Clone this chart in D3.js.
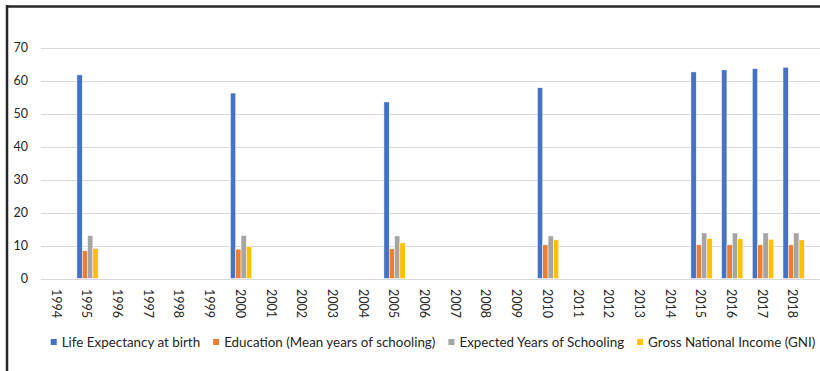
<!DOCTYPE html>
<html>
<head>
<meta charset="utf-8">
<script src="https://cdn.jsdelivr.net/npm/d3@7"></script>
<style>
  html, body { margin: 0; padding: 0; background: #fff; }
  svg { display: block; }
  text { font-family: Lato, "Open Sans", sans-serif; fill: #262626; }
</style>
</head>
<body>
<svg id="chart" width="820" height="371"></svg>
<script>
// Category axis: every year shown, only some have observations
const years = ["1994","1995","1996","1997","1998","1999","2000","2001","2002","2003",
  "2004","2005","2006","2007","2008","2009","2010","2011","2012","2013","2014",
  "2015","2016","2017","2018"];

// Years that carry data
const dataYears = ["1995","2000","2005","2010","2015","2016","2017","2018"];

// Series values, aligned with dataYears
const lifeExpectancy    = [61.7, 56.2, 53.5, 57.8, 62.6, 63.2, 63.6, 64.0];
const meanSchooling     = [8.4, 8.9, 9.0, 10.2, 10.2, 10.2, 10.2, 10.2];
const expectedSchooling = [13.0, 13.0, 12.9, 12.9, 13.8, 13.8, 13.8, 13.8];
const grossIncome       = [9.1, 9.6, 10.8, 11.7, 12.1, 12.0, 11.9, 11.7];

const seriesNames = [
  "Life Expectancy at birth",
  "Education (Mean years of schooling)",
  "Expected Years of Schooling",
  "Gross National Income (GNI)"
];
const seriesColors = ["#4472C4", "#ED7D31", "#A5A5A5", "#FFC000"];
const yTicks = [0, 10, 20, 30, 40, 50, 60, 70];

const seriesValues = [lifeExpectancy, meanSchooling, expectedSchooling, grossIncome];

const svg = d3.select("#chart");

// Frame lines on the left and top
svg.append("line").attr("x1", 7).attr("x2", 7).attr("y1", 5).attr("y2", 371)
  .attr("stroke", "#262626").attr("stroke-width", 2.5);
svg.append("line").attr("x1", 6).attr("x2", 820).attr("y1", 6.5).attr("y2", 6.5)
  .attr("stroke", "#262626").attr("stroke-width", 2.5);

const x0 = d3.scaleBand().domain(years).range([41.5, 809]);
const groupWidth = 21.3;
const x1 = d3.scaleBand().domain(d3.range(4)).range([0, groupWidth]);
const y = d3.scaleLinear().domain([0, 70]).range([278.5, 47.5]);

// Horizontal gridlines
svg.append("g").selectAll("line").data(yTicks).join("line")
  .attr("x1", 41).attr("x2", 820)
  .attr("y1", d => Math.round(y(d)) + 0.5).attr("y2", d => Math.round(y(d)) + 0.5)
  .attr("stroke", "#d9d9d9").attr("stroke-width", 1);

// Y axis labels
const yAxis = d3.axisLeft(y).tickValues(yTicks).tickSize(0).tickPadding(0);
const gy = svg.append("g").attr("transform", "translate(28,0)").call(yAxis);
gy.select(".domain").remove();
gy.selectAll("text").attr("font-size", 12.5).attr("font-family", "Lato, sans-serif").attr("fill", "#262626");

// Bars
const rows = dataYears.map((yr, i) => ({ year: yr, values: seriesValues.map(s => s[i]) }));
const groups = svg.append("g").selectAll("g").data(rows).join("g")
  .attr("transform", d => `translate(${x0(d.year) + (x0.bandwidth() - groupWidth) / 2},0)`);
groups.selectAll("rect").data(d => d.values.map((v, k) => ({ v, k }))).join("rect")
  .attr("x", d => x1(d.k))
  .attr("width", x1.bandwidth())
  .attr("y", d => y(d.v))
  .attr("height", d => y(0) - y(d.v))
  .attr("fill", d => seriesColors[d.k])
  .attr("stroke", "#fff").attr("stroke-width", 0.5);

// Category labels, rotated to read top to bottom
const xAxis = d3.axisBottom(x0).tickSize(0).tickPadding(0);
const gx = svg.append("g").attr("transform", "translate(0,289)").call(xAxis);
gx.select(".domain").remove();
gx.selectAll("text")
  .attr("font-size", 12.5).attr("font-family", "Lato, sans-serif").attr("fill", "#262626")
  .attr("transform", "rotate(90)")
  .attr("text-anchor", "start")
  .attr("x", 0).attr("y", 0).attr("dy", "0.42em");

// Legend
const legend = svg.append("g").attr("transform", "translate(0,342)");
let cursor = 0;
const items = legend.selectAll("g").data(seriesNames).join("g");
items.append("rect").attr("width", 6).attr("height", 6).attr("y", -3)
  .attr("fill", (d, i) => seriesColors[i]);
items.append("text").attr("x", 11).attr("dy", "0.36em")
  .attr("font-size", 13.4).text(d => d);
const positions = [];
items.each(function () {
  positions.push(cursor);
  cursor += 11 + this.querySelector("text").getComputedTextLength() + 13;
});
const legendWidth = cursor - 13;
const legendStart = 433 - legendWidth / 2;
items.attr("transform", (d, i) => `translate(${legendStart + positions[i]},0)`);
</script>
</body>
</html>
